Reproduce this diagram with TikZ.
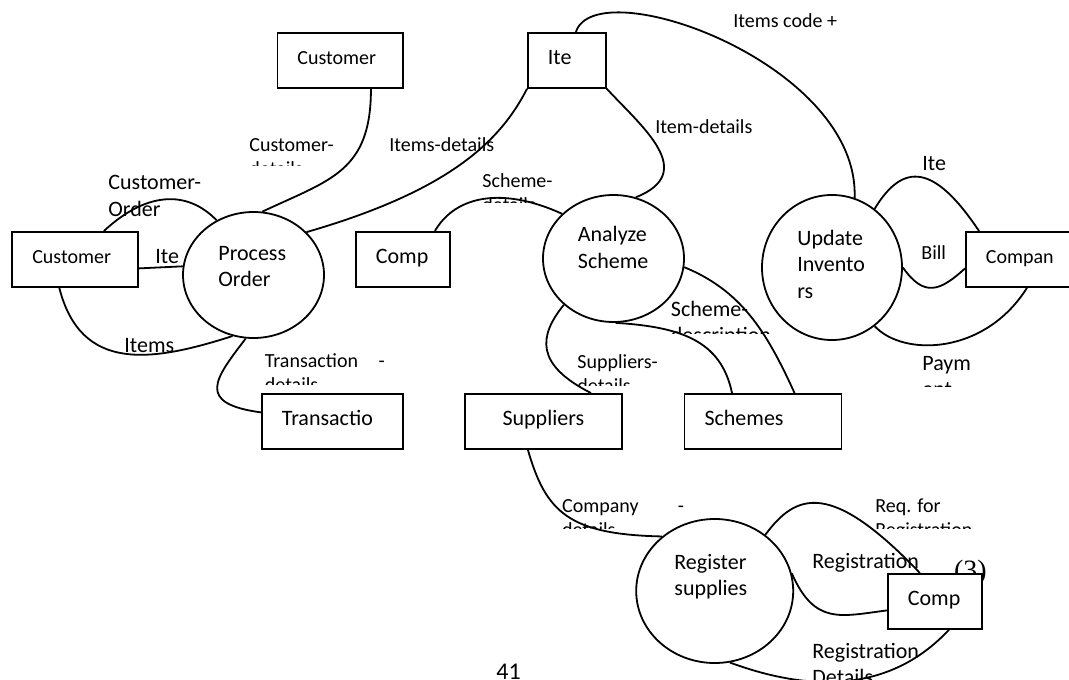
\documentclass[tikz,border=0pt]{standalone}
\usepackage{fontspec}
\setmainfont{Carlito}
\newfontfamily\serifnum{Liberation Serif}
\usetikzlibrary{shapes.geometric}

\begin{document}
\begin{tikzpicture}[x=0.5pt, y=-0.5pt,
  box/.style={draw, line width=0.9pt, rectangle, anchor=north west, minimum height=27.5pt,
    inner xsep=10pt, inner ysep=0pt, align=flush left, text height=0.7em, text depth=0.25em},
  proc/.style={draw, ellipse, line width=0.9pt, inner sep=0pt},
  flow/.style={line width=0.9pt},
  smalltxt/.style={font=\fontsize{10}{12.2}\selectfont},
  bigtxt/.style={font=\fontsize{11}{13.4}\selectfont},
  lab/.style={inner sep=0pt, anchor=base west, align=flush left, text width=90pt}]

% Page frame
\useasboundingbox (0,0) rectangle (1069,679);
\clip (0,0) rectangle (1069,679);

% Stores and outside entities
\node[box, smalltxt, text width=42.75pt] (custtop) at (276.5,32) {Customer};
\node[box, smalltxt, text width=42.8pt] (custleft) at (11.4,231) {Customer};
\node[box, bigtxt, text width=19pt] (itebox) at (527,32) {Ite};
\node[box, bigtxt, text width=27pt] (compmid) at (355,231) {Comp};
\node[box, smalltxt, text width=45pt] (compan) at (965,231) {Compan};
\node[box, bigtxt, text width=50.5pt] (trans) at (261,393) {Transactio};
\node[box, bigtxt, text width=58.5pt, align=center] (supp) at (464,393) {Suppliers};
\node[box, bigtxt, text width=58.5pt] (schemes) at (683.6,393) {Schemes};
\node[lab, font=\serifnum\fontsize{14}{16}\selectfont] (three) at (953.6,579) {(3)};
\node[box, bigtxt, text width=27pt, fill=white] (compbot) at (887,573) {Comp};

% Processes
\node[proc, minimum width=70.5pt, minimum height=63pt] (pord) at (253.5,275) {};
\node[proc, minimum width=70.5pt, minimum height=63.5pt] (anls) at (613.5,258.5) {};
\node[proc, minimum width=70pt, minimum height=72.5pt] (updi) at (832,267.5) {};
\node[proc, minimum width=78.5pt, minimum height=72pt] (regs) at (714.7,591) {};

\node[lab, bigtxt] (pordtext) at (218,260) {Process\\Order};
\node[lab, bigtxt] (anlstext) at (577.5,242) {Analyze\\Scheme};
\node[lab, bigtxt] (upditext) at (797,245) {Update\\Invento\\rs};
\node[lab, bigtxt] (regstext) at (674,569) {Register\\supplies};

% Flow labels
\node[lab, bigtxt] (lcorder) at (108,190) {Customer-\\Order};
\node[lab, bigtxt] (liteone) at (155,263) {Ite};
\node[lab, bigtxt] (litems) at (124,352) {Items};
\node[lab, smalltxt] (litemsd) at (389,151.5) {Items-details};
\node[lab, smalltxt] (litemd) at (655,133.5) {Item-details};
\node[lab, smalltxt] (lcode) at (733,27.5) {Items code +};
\node[lab, bigtxt] (litetwo) at (922,171) {Ite};
\node[lab, smalltxt] (lbill) at (921,259.5) {Bill};
\node[lab, bigtxt] (lregone) at (812,568) {Registration};
\node[lab, bigtxt] (lregtwo) at (812,658) {Registration\\Details};
\node[lab, font=\fontsize{12}{14}\selectfont] (pagenum) at (496,679) {41};

% Labels cut off by their text boxes
\begin{scope}
  \clip (240,130) rectangle (340,166);
  \node[lab, smalltxt] (lcustd) at (249,151.5) {Customer-\\details};
\end{scope}
\begin{scope}
  \clip (255,340) rectangle (400,384);
  \node[lab, smalltxt, text width=60pt] (ltrans) at (264.5,367.5) {Transaction\hfill-\\details};
\end{scope}
\begin{scope}
  \clip (470,165) rectangle (560,203);
  \node[lab, smalltxt] (lschd) at (482,187.5) {Scheme-\\details};
\end{scope}
\begin{scope}
  \clip (660,290) rectangle (780,333);
  \node[lab, bigtxt] (lschdesc) at (670.5,316) {Scheme-\\description};
\end{scope}
\begin{scope}
  \clip (570,345) rectangle (660,385);
  \node[lab, smalltxt] (lsuppd) at (577,368.5) {Suppliers-\\details};
\end{scope}
\begin{scope}
  \clip (910,345) rectangle (990,386);
  \node[lab, bigtxt] (lpay) at (922,370) {Paym\\ent};
\end{scope}
\begin{scope}
  \clip (555,490) rectangle (700,528);
  \node[lab, smalltxt, text width=61pt] (lcompd) at (561.7,512.5) {Company\hfill-\\details};
\end{scope}
\begin{scope}
  \clip (865,490) rectangle (990,528);
  \node[lab, smalltxt] (lreq) at (875,512.5) {Req. for\\Registration};
\end{scope}

% Data flows
\draw[flow] ([xshift=15.4pt]custtop.south) .. controls +(0,83) and +(68,-32) .. (pord.82);
\draw[flow] (itebox.south west) .. controls +(-27,53) and +(142,-41) .. (pord.39);
\draw[flow] ([xshift=14.4pt]custleft.north) .. controls +(42,-39) and +(-30,-31) .. (pord.124);
\draw[flow] ([yshift=-4.5pt]custleft.east) -- (pord.173);
\draw[flow] ([xshift=-7.9pt]custleft.south) .. controls +(21.5,85) and +(-81,26) .. (pord.251);
\draw[flow] (pord.263) .. controls +(-30.5,40) and +(-66,-9) .. ([yshift=4.5pt]trans.west);
\draw[flow] ([xshift=16pt]compmid.north) .. controls +(21,-36) and +(-59,-27) .. (anls.139);
\draw[flow] (itebox.south east) .. controls +(35,38) and +(63,-25) .. (anls.70);
\draw[flow] ([xshift=4.5pt]itebox.north) .. controls +(20,-62) and +(5,-135) .. (updi.72);
\draw[flow] (updi.54) .. controls +(29,-48) and +(-44,-66) .. ([xshift=7pt]compan.north west);
\draw[flow] (updi.0) .. controls +(21,30) and +(-25,23) .. ([yshift=-4.5pt]compan.west);
\draw[flow] ([xshift=31pt]compan.south west) .. controls +(-42,67) and +(29,31) .. (updi.306);
\draw[flow] (anls.353) .. controls +(56,23) and +(-28.5,-63) .. ([xshift=15.75pt]schemes.north);
\draw[flow] (anls.272) .. controls +(64,4) and +(-11,-53) .. ([xshift=-15.5pt]schemes.north);
\draw[flow] (anls.223) .. controls +(-26,32) and +(-55,-28) .. ([xshift=23.75pt]supp.north);
\draw[flow] ([xshift=-7.75pt]supp.south) .. controls +(18,63) and +(-92.6,-2) .. (regs.134);
\draw[flow] (regs.48) .. controls +(31,-42) and +(-89,-93) .. ([xshift=-7.5pt]compbot.north);
\draw[flow] (regs.13) .. controls +(23,52) and +(-47,6) .. ([yshift=-4.5pt]compbot.west);
\draw[flow] (regs.282) .. controls +(60,22) and +(-68,73) .. ([xshift=7pt]compbot.south);

\end{tikzpicture}
\end{document}
